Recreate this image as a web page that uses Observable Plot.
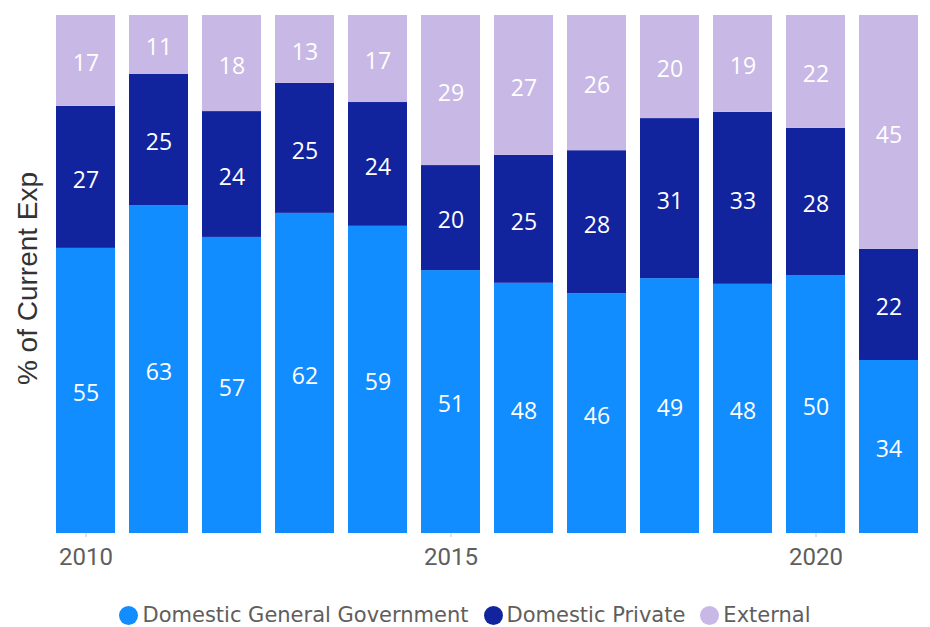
<!DOCTYPE html>
<html>
<head>
<meta charset="utf-8">
<script src="https://cdn.jsdelivr.net/npm/d3@7"></script>
<script src="https://cdn.jsdelivr.net/npm/@observablehq/plot@0.6"></script>
<style>
  html, body { margin: 0; padding: 0; background: #fff; }
  #chart { width: 930px; }
  .legend { display: flex; justify-content: center; align-items: center; margin-top: 23px; height: 24px;
    font-family: "DejaVu Sans", sans-serif; font-size: 21px; color: #605E5C; padding-left: 0px; }
  .legend .item { display: flex; align-items: center; margin-right: 15px; }
  .legend .item:last-child { margin-right: 0; }
  .legend .sw { width: 19px; height: 19px; border-radius: 50%; display: inline-block; margin-right: 4px; }
</style>
</head>
<body>
<div id="chart"></div>
<script>
const years = [2010, 2011, 2012, 2013, 2014, 2015, 2016, 2017, 2018, 2019, 2020, 2021];
const general = [54.6, 62.8, 56.7, 61.8, 59.3, 50.8, 48.3, 46.3, 49.2, 48.1, 49.8, 33.6];
const privateExp = [27.2, 25.1, 24.1, 25.1, 23.9, 20.3, 24.7, 27.6, 30.9, 33.2, 28.4, 21.6];
const external = [17.4, 11.3, 18.4, 13.1, 16.8, 29.0, 27.0, 26.1, 19.9, 18.7, 21.8, 45.4];
const seriesNames = ["Domestic General Government", "Domestic Private", "External"];
const seriesColors = ["#118DFF", "#12239E", "#C8B8E6"];
const tickYears = [2010, 2015, 2020];
const yLabel = "% of Current Exp";

const valuesBySeries = [general, privateExp, external];
const data = [];
years.forEach((yr, i) => {
  seriesNames.forEach((s, j) => data.push({year: yr, series: s, value: valuesBySeries[j][i]}));
});

const chart = Plot.plot({
  width: 930,
  height: 580,
  marginTop: 15,
  marginLeft: 54,
  marginRight: 11,
  marginBottom: 47,
  style: {fontFamily: "Roboto, sans-serif", background: "#fff"},
  x: {type: "band", domain: years, paddingInner: 0.195, paddingOuter: 0, axis: null},
  y: {axis: null, domain: [0, 1]},
  color: {domain: seriesNames, range: seriesColors},
  marks: [
    Plot.barY(data, Plot.stackY({x: "year", y: "value", fill: "series", offset: "normalize"})),
    Plot.text(data, Plot.stackY({x: "year", y: "value", z: "series", text: d => String(Math.round(d.value)),
      offset: "normalize", fill: "white", fontSize: 23, dy: 3, fontFamily: "Open Sans, sans-serif"})),
    Plot.axisX(tickYears, {tickFormat: d => String(d), tickSize: 4, tickPadding: 10, stroke: "#C8C6C4",
      fontSize: 24, fill: "#605E5C", label: null}),
    Plot.text([yLabel], {frameAnchor: "left", textAnchor: "middle", rotate: -90, dx: -26, dy: 4, fontSize: 28,
      fill: "#333333", fontFamily: "Liberation Sans, Arial, sans-serif"})
  ]
});
document.getElementById("chart").appendChild(chart);

const legend = document.createElement("div");
legend.className = "legend";
seriesNames.forEach((s, j) => {
  const item = document.createElement("span");
  item.className = "item";
  const sw = document.createElement("span");
  sw.className = "sw";
  sw.style.background = seriesColors[j];
  const t = document.createElement("span");
  t.textContent = s;
  item.appendChild(sw);
  item.appendChild(t);
  legend.appendChild(item);
});
document.getElementById("chart").appendChild(legend);
</script>
</body>
</html>
